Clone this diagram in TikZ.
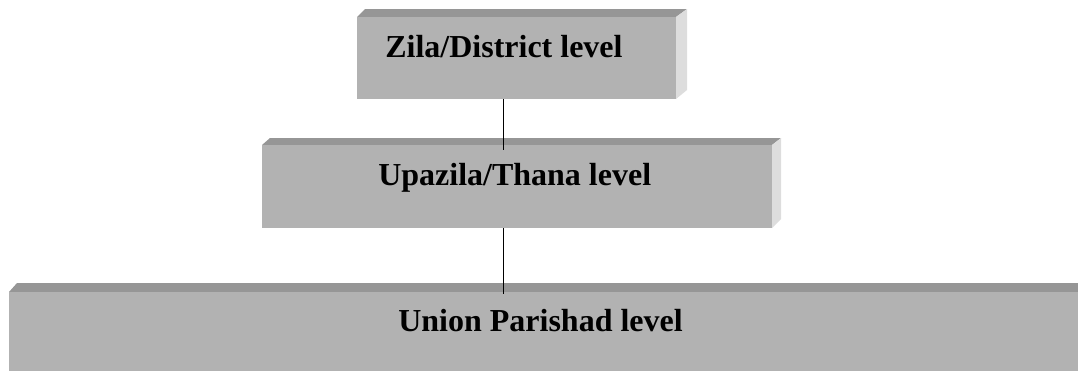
\documentclass[tikz,border=0pt]{standalone}
\usepackage{fontspec}
\setmainfont{Liberation Serif}
\usetikzlibrary{calc}
\definecolor{front}{HTML}{B2B2B2}
\definecolor{topface}{HTML}{969696}
\definecolor{sideface}{HTML}{DDDDDD}
\tikzset{
  face/.style={fill=front, draw=none, inner sep=0pt, outer sep=0pt, rectangle, anchor=north west},
  lbl/.style={font=\bfseries\fontsize{24}{28}\selectfont, inner sep=0pt, anchor=base west},
  conn/.style={line width=1.2pt, black}
}
\begin{document}
\begin{tikzpicture}[x=0.75pt,y=-0.75pt]
\useasboundingbox (0,0) rectangle (1078,371);
% top box
\fill[topface] (357,17) -- (365,9) -- (687,9) -- (676,17) -- cycle;
\fill[sideface] (676,17) -- (687,9) -- (687,90) -- (676,99) -- cycle;
\node[face, minimum width=319*0.75pt, minimum height=82*0.75pt] (top) at (357,17) {};
% middle box
\fill[topface] (262,145) -- (270,138) -- (781,138) -- (772,145) -- cycle;
\fill[sideface] (772,145) -- (781,138) -- (781,219) -- (772,228) -- cycle;
\node[face, minimum width=510*0.75pt, minimum height=83*0.75pt] (mid) at (262,145) {};
% bottom box
\fill[topface] (9,292) -- (17,283) -- (1078,283) -- (1078,292) -- cycle;
\node[face, minimum width=1069*0.75pt, minimum height=79*0.75pt] (bot) at (9,292) {};
% labels
\node[lbl] (t1) at (385,57) {Zila/District level};
\node[lbl] (t2) at (378,185) {Upazila/Thana level};
\node[lbl] (t3) at (398,331) {Union Parishad level};
% connectors
\coordinate (x1) at (503.5,0);
\draw[conn] (top.south -| x1) -- ($(mid.north -| x1)+(0,5)$);
\draw[conn] (mid.south -| x1) -- ($(bot.north -| x1)+(0,2)$);
\end{tikzpicture}
\end{document}
